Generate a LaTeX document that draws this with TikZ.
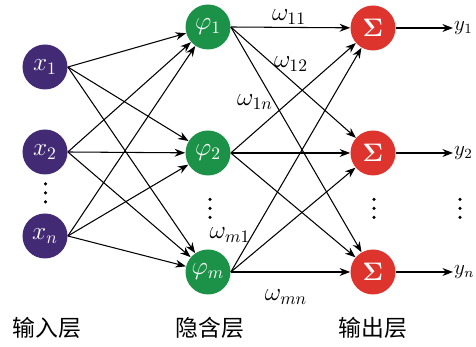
\documentclass[tikz,border=0pt]{standalone}
\usepackage{amsmath}
\usepackage{fontspec}
\usepackage{tikz}
\usetikzlibrary{arrows.meta}
\usetikzlibrary{positioning}
\newfontfamily\cjk{Noto Sans CJK SC}
\definecolor{inpurple}{RGB}{66,42,116}
\definecolor{hidgreen}{RGB}{28,146,72}
\definecolor{outred}{RGB}{222,52,46}

\begin{document}
\begin{tikzpicture}[
		neuron/.style={circle,minimum size=0.9cm,inner sep=0pt,text=white,font=\Large},
		conn/.style={-{Stealth[length=6pt,width=4.5pt]},line width=0.6pt},
		layer/.style={font=\cjk\fontsize{13}{15}\selectfont},
		every node/.append style={font=\Large},
	]
		\useasboundingbox (0,0) rectangle (9.52,6.94);
		
		% input layer
		\node[neuron,fill=inpurple] (I-1) at (0.9,5.6) {$x_1$};
		\node[neuron,fill=inpurple] (I-2) at (0.9,3.9) {$x_2$};
		\node[neuron,fill=inpurple] (I-3) at (0.9,2.22) {$x_n$};
		
		% hidden layer
		\node[neuron,fill=hidgreen] (H-1) at (4.16,6.4) {$\varphi_1$};
		\node[neuron,fill=hidgreen] (H-2) at (4.16,3.88) {$\varphi_2$};
		\node[neuron,fill=hidgreen] (H-3) at (4.16,1.5) {$\varphi_m$};
		
		% output layer
		\foreach \n/\y in {1/6.38,2/3.88,3/1.5}{
			\node[neuron,fill=outred] (O-\n) at (7.46,\y) {$\boldsymbol{\Sigma}$};
		}
		\node[anchor=west,inner sep=0.5pt,font=\large] (Y-1) at (9.06,6.38) {$y_1$};
		\node[anchor=west,inner sep=0.5pt,font=\large] (Y-2) at (9.06,3.88) {$y_2$};
		\node[anchor=west,inner sep=0.5pt,font=\large] (Y-3) at (9.06,1.5) {$y_n$};
		
		\foreach \a in {1,2,3}{
			\foreach \b in {1,2,3}{
				\draw[conn] (I-\a.east) -- (H-\b);
				\draw[conn] (H-\a.east) -- (O-\b);
			}
			\draw[conn] (O-\a) -- (Y-\a);
		}
		
		% dots
		\foreach \x/\y in {0.91/3.08,4.2/2.77,7.48/2.77,9.2/2.77}{
			\foreach \d in {-0.18,0,0.18}{
				\fill (\x,\y+\d) circle (0.035);
			}
		}
		
		% weights
		\node (W-11) at (5.78,6.6) {$\omega_{11}$};
		\node (W-12) at (5.82,5.66) {$\omega_{12}$};
		\node (W-1n) at (5.1,4.9) {$\omega_{1n}$};
		\node (W-m1) at (4.6,2.24) {$\omega_{m1}$};
		\node (W-mn) at (5.72,1.0) {$\omega_{mn}$};
		
		% layer names
		\node[layer] (L-1) at (0.94,0.39) {输入层};
		\node[layer] (L-2) at (4.2,0.39) {隐含层};
		\node[layer] (L-3) at (7.46,0.39) {输出层};
\end{tikzpicture}
\end{document}
